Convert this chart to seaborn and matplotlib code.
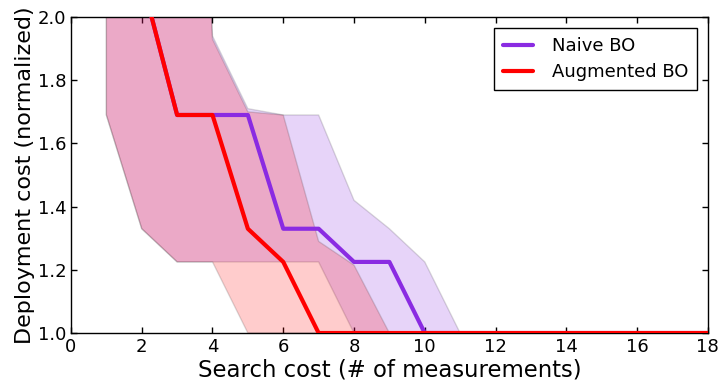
import numpy as np
import pandas as pd
import matplotlib
matplotlib.use("Agg")
import matplotlib.pyplot as plt
import seaborn as sns

# Search cost (number of measurements)
steps = list(range(1, 19))

# Median deployment cost per search step
naive_median = [2.60, 2.12, 1.69, 1.69, 1.69, 1.33, 1.33, 1.225, 1.225, 1.0,
                1.0, 1.0, 1.0, 1.0, 1.0, 1.0, 1.0, 1.0]
augmented_median = [2.60, 2.12, 1.69, 1.69, 1.33, 1.225, 1.0, 1.0, 1.0, 1.0,
                    1.0, 1.0, 1.0, 1.0, 1.0, 1.0, 1.0, 1.0]

# Spread across runs (lower / upper envelope)
naive_low = [1.69, 1.33, 1.225, 1.225, 1.225, 1.225, 1.225, 1.0, 1.0, 1.0,
             1.0, 1.0, 1.0, 1.0, 1.0, 1.0, 1.0, 1.0]
naive_high = [4.5, 4.5, 4.5, 1.94, 1.71, 1.69, 1.69, 1.42, 1.33, 1.225,
              1.0, 1.0, 1.0, 1.0, 1.0, 1.0, 1.0, 1.0]
augmented_low = [1.69, 1.33, 1.225, 1.225, 1.0, 1.0, 1.0, 1.0, 1.0, 1.0,
                 1.0, 1.0, 1.0, 1.0, 1.0, 1.0, 1.0, 1.0]
augmented_high = [4.5, 4.5, 4.5, 1.93, 1.70, 1.69, 1.29, 1.215, 1.0, 1.0,
                  1.0, 1.0, 1.0, 1.0, 1.0, 1.0, 1.0, 1.0]

methods = ["Naive BO", "Augmented BO"]
colors = {"Naive BO": "#8a2be2", "Augmented BO": "#ff0000"}

sns.set_style("ticks")
plt.rcParams.update({
    "font.family": ["DejaVu Sans"],
    "text.color": "black",
    "axes.labelcolor": "black",
    "xtick.color": "black",
    "ytick.color": "black",
    "xtick.direction": "in",
    "ytick.direction": "in",
    "xtick.top": True,
    "ytick.right": True,
    "xtick.major.size": 4,
    "ytick.major.size": 4,
    "axes.edgecolor": "black",
    "axes.linewidth": 1.0,
})

df = pd.DataFrame({
    "step": steps * 2,
    "cost": naive_median + augmented_median,
    "method": ["Naive BO"] * len(steps) + ["Augmented BO"] * len(steps),
})

fig = plt.figure(figsize=(7.2, 3.87), dpi=100)
ax = fig.add_axes([0.0986, 0.1395, 0.8844, 0.8165])

edge = (0.0, 0.0, 0.0, 0.14)
for lo, hi, name in [(naive_low, naive_high, "Naive BO"),
                     (augmented_low, augmented_high, "Augmented BO")]:
    face = matplotlib.colors.to_rgba(colors[name], 0.2)
    ax.fill_between(steps, lo, hi, facecolor=face, edgecolor=edge,
                    linewidth=1.0, zorder=1)

sns.lineplot(data=df, x="step", y="cost", hue="method", hue_order=methods,
             palette=colors, linewidth=3, ax=ax, zorder=3)

ax.set_xlim(0, 18)
ax.set_ylim(1.0, 2.0)
ax.set_xticks(np.arange(0, 19, 2))
ax.set_yticks(np.arange(1.0, 2.01, 0.2))
ax.set_yticklabels([f"{v:.1f}" for v in np.arange(1.0, 2.01, 0.2)])
ax.tick_params(labelsize=13, colors="black", width=1)
ax.set_xlabel("Search cost (# of measurements)", fontsize=16.4, labelpad=2,
              color="black")
ax.set_ylabel("Deployment cost (normalized)", fontsize=16, labelpad=2,
              color="black")

handles, labels = ax.get_legend_handles_labels()
leg = ax.legend(handles, labels, loc="upper right", fontsize=13,
                frameon=True, fancybox=False, edgecolor="black",
                framealpha=1.0, borderaxespad=0.6, borderpad=0.5,
                handlelength=1.65, handletextpad=1.05, labelspacing=0.45)
leg.get_frame().set_linewidth(1.0)
for ln in leg.get_lines():
    ln.set_linewidth(3)
for txt in leg.get_texts():
    txt.set_color("black")

fig.savefig("out.png", dpi=100)
